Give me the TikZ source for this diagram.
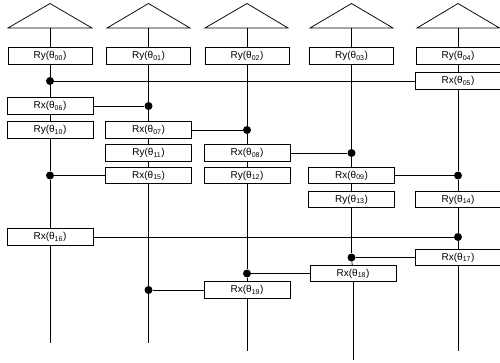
\documentclass[tikz,border=0pt]{standalone}
\usepackage{fontspec}
\setmainfont{Liberation Sans}
\tikzset{
	gate/.style={draw=black, fill=white, line width=.75pt, inner sep=0pt, minimum width=84pt, minimum height=16.5pt, font=\fontsize{10}{12}\selectfont},
	gatewide/.style={gate, minimum width=86pt},
	wire/.style={black, line width=.75pt},
	ctrl/.style={circle, fill=black, inner sep=0pt, minimum size=8pt},
}
\newcommand{\ang}[1]{(θ\textsubscript{#1})}
\begin{document}
\begin{tikzpicture}[x=1pt,y=-1pt]
	\useasboundingbox (0,0) rectangle (500,362);
	
	\coordinate (T0) at (50,28);
	\coordinate (T1) at (148.5,28);
	\coordinate (T2) at (247,28);
	\coordinate (T3) at (351.5,28);
	\coordinate (T4) at (458,28);
	
	\draw[wire] (8,28) -- (50,3.5) -- (92,28) -- cycle;
	\draw[wire] (107,28) -- (148.5,3.5) -- (190,28) -- cycle;
	\draw[wire] (205,28) -- (247,3.5) -- (288,28) -- cycle;
	\draw[wire] (310,28) -- (351.5,3.5) -- (393,28) -- cycle;
	\draw[wire] (417,28) -- (458,3.5) -- (499.5,28) -- cycle;
	
	\node[gate] (Ry00) at (50,56) {Ry\ang{00}};
	\node[gate] (Ry01) at (148.5,56) {Ry\ang{01}};
	\node[gate] (Ry02) at (247,56) {Ry\ang{02}};
	\node[gate] (Ry03) at (351.5,56) {Ry\ang{03}};
	\node[gate] (Ry04) at (458,56) {Ry\ang{04}};
	\node[gatewide] (Rx05) at (458,81) {Rx\ang{05}};
	\node[gatewide] (Rx06) at (50,106) {Rx\ang{06}};
	\node[gatewide] (Ry10) at (50,130) {Ry\ang{10}};
	\node[gatewide] (Rx07) at (148.5,130) {Rx\ang{07}};
	\node[gatewide] (Ry11) at (148.5,153) {Ry\ang{11}};
	\node[gatewide] (Rx08) at (247,153) {Rx\ang{08}};
	\node[gatewide] (Rx15) at (148.5,175.5) {Rx\ang{15}};
	\node[gatewide] (Ry12) at (247,175.5) {Ry\ang{12}};
	\node[gatewide] (Rx09) at (351.5,175.5) {Rx\ang{09}};
	\node[gatewide] (Ry13) at (351.5,199.5) {Ry\ang{13}};
	\node[gatewide] (Ry14) at (458,199.5) {Ry\ang{14}};
	\node[gatewide] (Rx16) at (50,237) {Rx\ang{16}};
	\node[gatewide] (Rx17) at (458,257.5) {Rx\ang{17}};
	\node[gatewide] (Rx18) at (353,273.5) {Rx\ang{18}};
	\node[gatewide] (Rx19) at (247,290) {Rx\ang{19}};
	
	\node[ctrl] (c05) at (50,81) {};
	\node[ctrl] (c06) at (148.5,106) {};
	\node[ctrl] (c07) at (247,130) {};
	\node[ctrl] (c08) at (351.5,153) {};
	\node[ctrl] (c09) at (458,175.5) {};
	\node[ctrl] (c15) at (50,175.5) {};
	\node[ctrl] (c16) at (458,237) {};
	\node[ctrl] (c17) at (351.5,257.5) {};
	\node[ctrl] (c18) at (247,273.5) {};
	\node[ctrl] (c19) at (148.5,290) {};
	
	\coordinate (E0) at (50,343);
	\coordinate (E1) at (148.5,343);
	\coordinate (E2) at (247,351);
	\coordinate (E3) at (353,360);
	\coordinate (E4) at (458,351);
	
	% first column
	\draw[wire] (T0) -- (Ry00);
	\draw[wire] (Ry00) -- (c05);
	\draw[wire] (c05) -- (Rx06);
	\draw[wire] (Rx06) -- (Ry10);
	\draw[wire] (Ry10) -- (c15);
	\draw[wire] (c15) -- (Rx16);
	\draw[wire] (Rx16) -- (E0);
	
	% second column
	\draw[wire] (T1) -- (Ry01);
	\draw[wire] (Ry01) -- (c06);
	\draw[wire] (c06) -- (Rx07);
	\draw[wire] (Rx07) -- (Ry11);
	\draw[wire] (Ry11) -- (Rx15);
	\draw[wire] (Rx15) -- (c19);
	\draw[wire] (c19) -- (E1);
	
	% third column
	\draw[wire] (T2) -- (Ry02);
	\draw[wire] (Ry02) -- (c07);
	\draw[wire] (c07) -- (Rx08);
	\draw[wire] (Rx08) -- (Ry12);
	\draw[wire] (Ry12) -- (c18);
	\draw[wire] (c18) -- (Rx19);
	\draw[wire] (Rx19) -- (E2);
	
	% fourth column
	\draw[wire] (T3) -- (Ry03);
	\draw[wire] (Ry03) -- (c08);
	\draw[wire] (c08) -- (Rx09);
	\draw[wire] (Rx09) -- (Ry13);
	\draw[wire] (Ry13) -- (c17);
	\draw[wire] (c17) -- (Rx18);
	\draw[wire] (Rx18) -- (E3);
	
	% fifth column
	\draw[wire] (T4) -- (Ry04);
	\draw[wire] (Ry04) -- (Rx05);
	\draw[wire] (Rx05) -- (c09);
	\draw[wire] (c09) -- (Ry14);
	\draw[wire] (Ry14) -- (c16);
	\draw[wire] (c16) -- (Rx17);
	\draw[wire] (Rx17) -- (E4);
	
	% links between columns
	\draw[wire] (c05) -- (Rx05);
	\draw[wire] (Rx06) -- (c06);
	\draw[wire] (Rx07) -- (c07);
	\draw[wire] (Rx08) -- (c08);
	\draw[wire] (Rx09) -- (c09);
	\draw[wire] (c15) -- (Rx15);
	\draw[wire] (Rx16) -- (c16);
	\draw[wire] (c17) -- (Rx17);
	\draw[wire] (c18) -- (Rx18);
	\draw[wire] (c19) -- (Rx19);
\end{tikzpicture}
\end{document}
